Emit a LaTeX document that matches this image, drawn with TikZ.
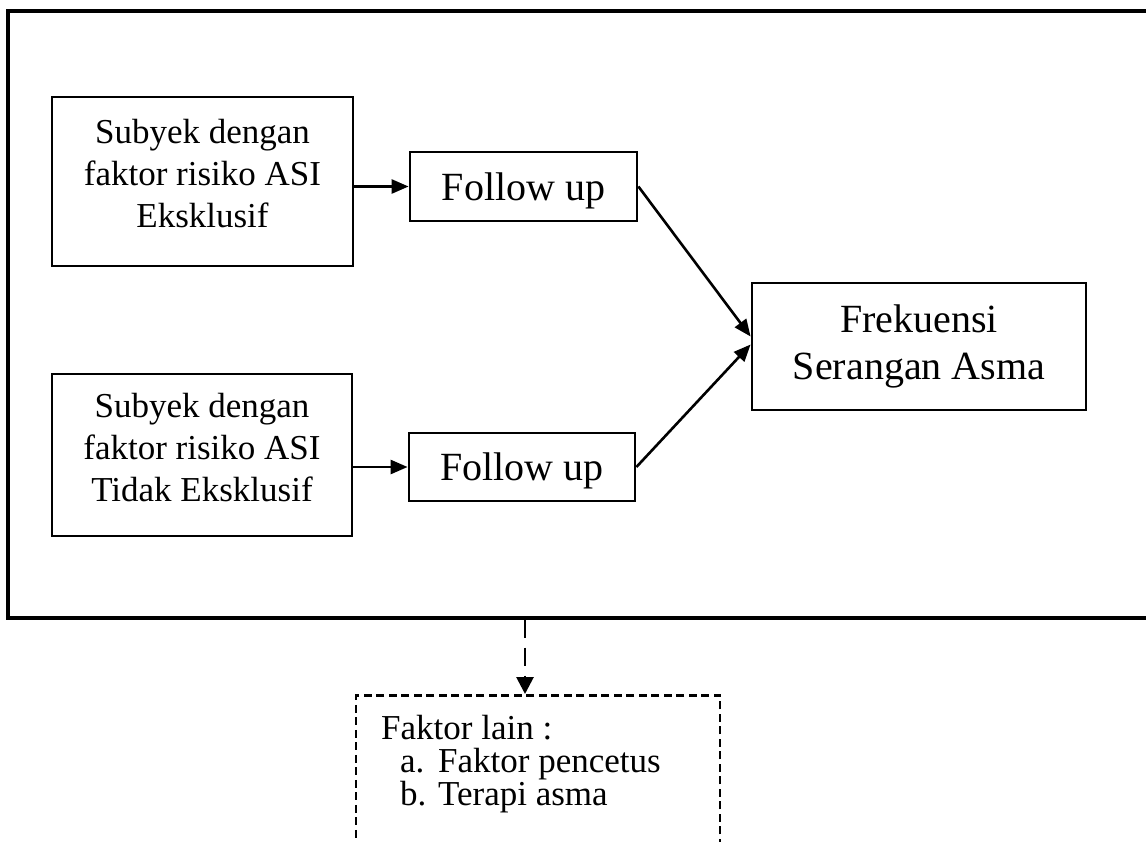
\documentclass[tikz,border=0pt]{standalone}
\usepackage{fontspec}
\setmainfont{Liberation Serif}
\usepackage{tikz}
\usetikzlibrary{arrows.meta,positioning,calc}

\newcommand{\lowstrut}{\rule[-16pt]{0pt}{16pt}}
\lineskiplimit=-50pt

\begin{document}
\begin{tikzpicture}[
    x=1pt, y=-1pt,
    box/.style={rectangle, draw, line width=2.8pt, inner sep=0pt, align=center},
    subbox/.style={box, font=\fontsize{35}{42}\selectfont},
    bigbox/.style={box, font=\fontsize{40}{47}\selectfont},
    arrow/.style={-{Triangle[length=17pt,width=14pt]}, line width=2.6pt},
    dasharrow/.style={-{Triangle[length=17pt,width=17pt]}, line width=2.8pt, dash pattern=on 18pt off 10pt}
]
    \useasboundingbox (0,0) rectangle (1146,841);

    % Outer frame
    \node[rectangle, draw, line width=3.4pt, minimum width=1144pt, minimum height=607pt] (outer) at (580, 314.5) {};

    % Subjects
    \node[subbox, minimum width=301pt, minimum height=169pt] (sub1) at (202.5, 181.5)
        {Subyek dengan\\faktor risiko ASI\\Eksklusif\lowstrut};
    \node[subbox, minimum width=300pt, minimum height=162pt] (sub2) at (202, 455)
        {Subyek dengan\\faktor risiko ASI\\Tidak Eksklusif\lowstrut};

    % Follow up
    \node[bigbox, text depth=0pt, minimum width=227pt, minimum height=69pt] (fu1) at (523.5, 186.5) {Follow up};
    \node[bigbox, text depth=0pt, minimum width=226pt, minimum height=68pt] (fu2) at (522, 467) {Follow up};

    % Outcome
    \node[bigbox, minimum width=334pt, minimum height=127pt] (freq) at (919, 346.5)
        {Frekuensi\\Serangan Asma};

    % Other factors
    \node[rectangle, draw, line width=2.6pt, dash pattern=on 8pt off 4.5pt, minimum width=364pt, minimum height=200pt, anchor=north] (lain) at (538, 694) {};
    \node[anchor=north west, inner sep=0pt, align=left, font=\fontsize{35}{33}\selectfont] (lainTxt) at (381, 715)
        {Faktor lain :\\
         \hspace*{19pt}\makebox[38pt][l]{a.}Faktor pencetus\\
         \hspace*{19pt}\makebox[38pt][l]{b.}Terapi asma};

    % Connections
    \foreach \i in {1,2} {
        \draw[arrow] (sub\i.east |- fu\i.west) -- (fu\i.west);
    }
    \draw[arrow] (fu1.east) -- ([yshift=10pt]freq.west);
    \draw[arrow] (fu2.east) -- ([yshift=2pt]freq.west);
    \draw[dasharrow] ([xshift=-13pt]lain.north |- outer.south) -- ([xshift=-13pt]lain.north);
\end{tikzpicture}
\end{document}
